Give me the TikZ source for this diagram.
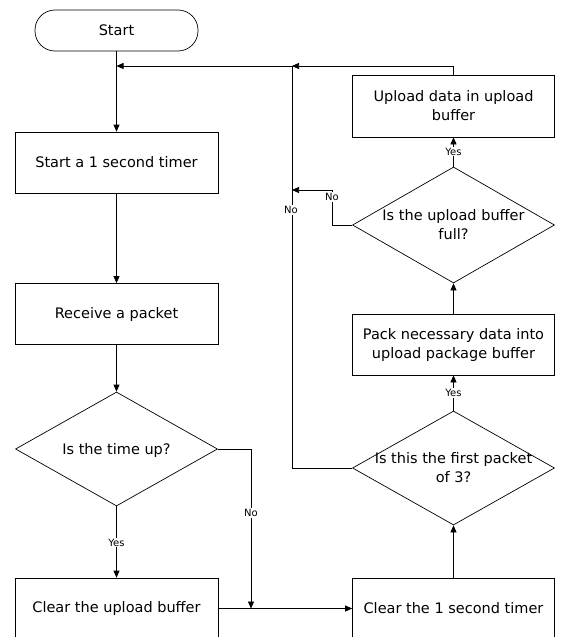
\documentclass[tikz,border=0pt]{standalone}
\usepackage{fontspec}
\setmainfont{DejaVu Sans}
\usetikzlibrary{shapes.geometric,arrows.meta}
\begin{document}
\begin{tikzpicture}[x=1pt,y=-1pt,line width=0.7pt,
  box/.style={draw,rectangle,minimum width=203pt,minimum height=61pt,inner sep=0pt,align=center,font=\fontsize{14.5}{19}\selectfont},
  term/.style={box,rounded corners=20pt,minimum width=163pt,minimum height=41pt},
  dia/.style={draw,diamond,minimum width=202pt,minimum height=114pt,inner sep=0pt,font=\fontsize{14.5}{19}\selectfont},
  lbl/.style={fill=white,inner sep=1pt,font=\fontsize{10}{11}\selectfont},
  arr/.style={-{Triangle[length=7pt,width=6pt]}}]
\clip (0,0) rectangle (567,637);
\fill[white] (0,0) rectangle (567,637);
% left column
\node[term] (start) at (116.5,30.5) {Start};
\node[box] (timer) at (116.5,162.5) {Start a 1 second timer};
\node[box] (receive) at (116.5,314) {Receive a packet};
\node[dia] (timeup) at (116.5,449) {\smash{\makebox[0pt]{\raisebox{-5pt}{Is the time up?}}}};
\node[box] (clearbuf) at (116.5,608.5) {Clear the upload buffer};
% right column
\node[box,minimum width=202pt] (cleartimer) at (453.5,608.5) {Clear the 1 second timer};
\node[dia] (first) at (453.5,468) {\smash{\makebox[0pt]{\raisebox{-4.5pt}{\begin{tabular}{@{}c@{}}Is this the first packet\\of 3?\end{tabular}}}}};
\node[box,minimum width=202pt] (pack) at (453.5,344.5) {Pack necessary data into\\upload package buffer};
\node[dia,minimum height=116pt] (full) at (453.5,225) {\smash{\makebox[0pt]{\raisebox{-4.5pt}{\begin{tabular}{@{}c@{}}Is the upload buffer\\full?\end{tabular}}}}};
\node[box,minimum width=202pt,minimum height=62pt] (upload) at (453.5,106) {Upload data in upload\\buffer};
% junction points
\coordinate (j0) at (116.5,66);
\coordinate (j2) at (292,66);
\coordinate (j1) at (251,608.5);
\coordinate (k1) at (332,190);
\coordinate (k2) at (292,190);
% connectors
\draw[arr] (start) -- (timer);
\draw[arr] (timer) -- (receive);
\draw[arr] (receive) -- (timeup);
\draw[arr] (timeup) -- (clearbuf);
\draw[arr] (timeup.east) -| (j1);
\draw[arr] (clearbuf) -- (cleartimer);
\draw[arr] (cleartimer) -- (first);
\draw[arr] (first) -- (pack);
\draw[arr] (pack) -- (full);
\draw[arr] (full) -- (upload);
\draw[arr] (upload.north) |- (j2);
\draw[arr] (first.west) -| (j2) -- (j0);
\draw[arr] (full.west) -| (k1) -- (k2);
% labels
\node[lbl] (yes1) at (116.5,542.5) {Yes};
\node[lbl] (no1) at (251,513) {No};
\node[lbl] (yes2) at (453.5,393) {Yes};
\node[lbl] (yes3) at (453.5,151.5) {Yes};
\node[lbl] (no2) at (291,210) {No};
\node[lbl] (no3) at (332,197) {No};
\end{tikzpicture}
\end{document}
